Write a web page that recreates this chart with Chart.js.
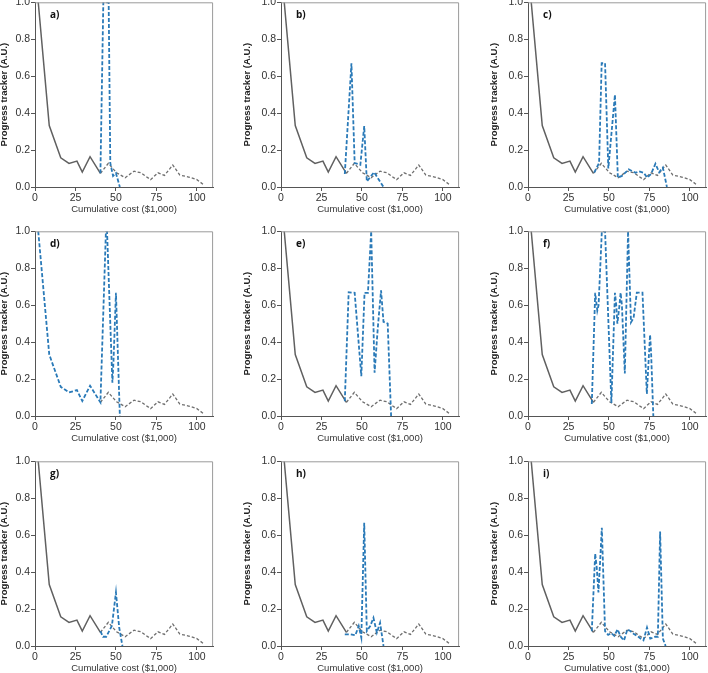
<!DOCTYPE html>
<html>
<head>
<meta charset="utf-8">
<script src="https://cdn.jsdelivr.net/npm/chart.js@4.4.1/dist/chart.umd.min.js"></script>
<style>
  html, body { margin: 0; padding: 0; background: #fff; overflow: hidden; }
  body { width: 708px; height: 673px; position: relative; }
  canvas { position: absolute; }
</style>
</head>
<body>
<script>
// shared reference curve (solid up to ~40, dotted after)
const baseCost = [2, 8.8, 15.9, 21, 25.9, 29.2, 34, 40.4, 45.3, 50.4, 55.7, 61.2, 65.3, 71.4, 76, 80, 85.1, 89.4, 94.9, 100, 104.7];
const baseProgress = [1.0, 0.333, 0.158, 0.128, 0.14, 0.081, 0.164, 0.074, 0.128, 0.077, 0.05, 0.086, 0.077, 0.04, 0.077, 0.063, 0.119, 0.065, 0.054, 0.04, 0.009];
const solidCount = 8;

// blue dashed series, one per panel
const aCost = [40.4, 42.2, 45.5, 46.5, 48.2, 50, 52.4];
const aProgress = [0.074, 1.0, 1.0, 0.13, 0.06, 0.075, 0.0];
const bCost = [39.4, 43.5, 45.5, 49, 51.4, 53, 57.5, 63.3];
const bProgress = [0.07, 0.67, 0.13, 0.12, 0.33, 0.03, 0.08, 0.0];
const cCost = [40.9, 43.9, 45.5, 47.6, 49.6, 53.7, 55.5, 58, 62.2, 66.5, 68.5, 71.5, 73.6, 76, 78.7, 81, 83.3, 85.8];
const cProgress = [0.078, 0.13, 0.67, 0.67, 0.1, 0.5, 0.05, 0.06, 0.095, 0.077, 0.085, 0.077, 0.05, 0.07, 0.126, 0.08, 0.105, 0.0];
const dCost = [2, 8.8, 15.9, 21, 25.9, 29.2, 34, 40.4, 43.8, 44.5, 47.8, 48.5, 50, 52.4];
const dProgress = [1.0, 0.333, 0.158, 0.128, 0.14, 0.081, 0.164, 0.074, 1.0, 1.0, 0.18, 0.3, 0.667, 0.0];
const eCost = [39.4, 41.8, 45.5, 49.6, 51.6, 53.7, 55.7, 57.8, 59.8, 61.8, 63.3, 65.9, 68];
const eProgress = [0.08, 0.67, 0.667, 0.216, 0.667, 0.667, 1.0, 0.234, 0.48, 0.68, 0.51, 0.5, 0.0];
const fCost = [39.4, 41.5, 42.8, 43.6, 45.6, 47.6, 51.5, 53.7, 54.5, 55.2, 56.5, 57.2, 58, 59.8, 61.8, 63.6, 65.2, 67.2, 70.7, 73.4, 74.5, 75.4, 76, 77.4];
const fProgress = [0.065, 0.667, 0.57, 0.6, 1.0, 1.0, 0.07, 0.667, 0.6, 0.5, 0.6, 0.667, 0.6, 0.23, 1.0, 0.507, 0.53, 0.668, 0.668, 0.12, 0.3, 0.44, 0.35, 0.0];
const gCost = [40.4, 42, 44, 47.5, 50, 52, 54];
const gProgress = [0.08, 0.05, 0.05, 0.11, 0.29, 0.1, 0.0];
const hCost = [39.4, 42.9, 45.9, 48, 49.6, 51.4, 53, 55.1, 57.1, 59.2, 61.2, 63.3];
const hProgress = [0.063, 0.063, 0.058, 0.108, 0.045, 0.667, 0.081, 0.108, 0.153, 0.072, 0.126, 0.0];
const iCost = [39.4, 41.5, 42.5, 43.5, 44.5, 45.6, 47.6, 49.5, 51.5, 53.3, 55.3, 57.3, 59.3, 61.4, 63.4, 65.4, 67.5, 69.5, 71.3, 73.5, 75.5, 78.5, 80.2, 81.6, 83.3, 85];
const iProgress = [0.08, 0.5, 0.42, 0.29, 0.45, 0.64, 0.08, 0.06, 0.07, 0.055, 0.09, 0.05, 0.03, 0.09, 0.08, 0.065, 0.055, 0.04, 0.03, 0.1, 0.04, 0.05, 0.05, 0.62, 0.04, 0.0];

const panelLabels = ["a)", "b)", "c)", "d)", "e)", "f)", "g)", "h)", "i)"];
const xTicks = [0, 25, 50, 75, 100];
const yTicks = [0, 0.2, 0.4, 0.6, 0.8, 1.0];

const panels = [
  [aCost, aProgress], [bCost, bProgress], [cCost, cProgress],
  [dCost, dProgress], [eCost, eProgress], [fCost, fProgress],
  [gCost, gProgress], [hCost, hProgress], [iCost, iProgress],
];

// where each plot area sits on the page
const colLeft = [35, 281, 528];
const yAxisWidth = [40, 43, 43];
const rowTop = [2.7, 231.7, 461.7];
const plotW = 179;
const plotH = 185;

const FONT = "'Liberation Sans', Arial, sans-serif";

function toPoints(xs, ys) {
  return xs.map((x, i) => ({ x: x, y: ys[i] }));
}

const framePlugin = {
  id: "frame",
  afterDatasetsDraw(chart, args, opts) {
    const { ctx, chartArea: a } = chart;
    ctx.save();
    ctx.strokeStyle = "#9a9a9a";
    ctx.lineWidth = 1;
    ctx.beginPath();
    ctx.moveTo(a.left, a.top + 0.5);
    ctx.lineTo(a.right - 0.5, a.top + 0.5);
    ctx.lineTo(a.right - 0.5, a.bottom);
    ctx.stroke();
    ctx.fillStyle = "#111";
    ctx.font = "bold 10px 'Open Sans', sans-serif";
    ctx.textBaseline = "middle";
    ctx.fillText(opts.label, a.left + 15, a.top + 13);
    ctx.restore();
  },
};

function drawPanel(k) {
  const col = k % 3;
  const row = Math.floor(k / 3);
  const [cost, progress] = panels[k];

  const canvas = document.createElement("canvas");
  document.body.appendChild(canvas);
  const w0 = 260, h0 = 250;
  canvas.width = w0;
  canvas.height = h0;

  const datasets = [
    {
      data: toPoints(cost, progress),
      borderColor: "#2a7ab8",
      borderWidth: 1.8,
      borderDash: [4, 2],
    },
    {
      data: toPoints(baseCost.slice(solidCount - 1), baseProgress.slice(solidCount - 1)),
      borderColor: "#6e6e6e",
      borderWidth: 1.3,
      borderDash: [3, 2],
    },
  ];
  if (k !== 3) {
    datasets.push({
      data: toPoints(baseCost.slice(0, solidCount), baseProgress.slice(0, solidCount)),
      borderColor: "#606060",
      borderWidth: 1.5,
    });
  }

  const chart = new Chart(canvas, {
    type: "line",
    data: { datasets: datasets },
    options: {
      responsive: false,
      maintainAspectRatio: false,
      animation: false,
      events: [],
      elements: { point: { radius: 0 }, line: { tension: 0 } },
      layout: { padding: 0 },
      plugins: {
        legend: { display: false },
        tooltip: { enabled: false },
        frame: { label: panelLabels[k] },
      },
      scales: {
        x: {
          type: "linear",
          min: 0,
          max: 110,
          afterBuildTicks: (s) => { s.ticks = xTicks.map((v) => ({ value: v })); },
          afterFit: (s) => { s.height = 30; },
          ticks: { color: "#333", font: { family: FONT, size: 10.5 }, padding: 1, maxRotation: 0 },
          grid: { drawOnChartArea: false, tickLength: 4, color: "#555" },
          border: { color: "#555", width: 1 },
          title: {
            display: true,
            text: "Cumulative cost ($1,000)",
            color: "#333",
            font: { family: FONT, size: 9.5 },
            padding: { top: 0, bottom: 2 },
          },
        },
        y: {
          min: 0,
          max: 1,
          afterBuildTicks: (s) => { s.ticks = yTicks.map((v) => ({ value: v })); },
          afterFit: (s) => { s.width = yAxisWidth[col]; },
          ticks: {
            color: "#333",
            font: { family: FONT, size: 10.5 },
            padding: 1,
            callback: (v) => Number(v).toFixed(1),
          },
          grid: { drawOnChartArea: false, tickLength: 4, color: "#555" },
          border: { color: "#555", width: 1 },
          title: {
            display: true,
            text: "Progress tracker (A.U.)",
            color: "#222",
            font: { family: FONT, size: 9.5, weight: "bold" },
            padding: { top: 4, bottom: 0 },
          },
        },
      },
    },
    plugins: [framePlugin],
  });

  const a = chart.chartArea;
  const w1 = Math.round(w0 + plotW - (a.right - a.left));
  const h1 = Math.round(h0 + plotH - (a.bottom - a.top));
  chart.resize(w1, h1);
  const b = chart.chartArea;
  canvas.style.left = (colLeft[col] - b.left) + "px";
  canvas.style.top = (rowTop[row] - b.top) + "px";
}

for (let k = 0; k < panels.length; k++) {
  drawPanel(k);
}
</script>
</body>
</html>
